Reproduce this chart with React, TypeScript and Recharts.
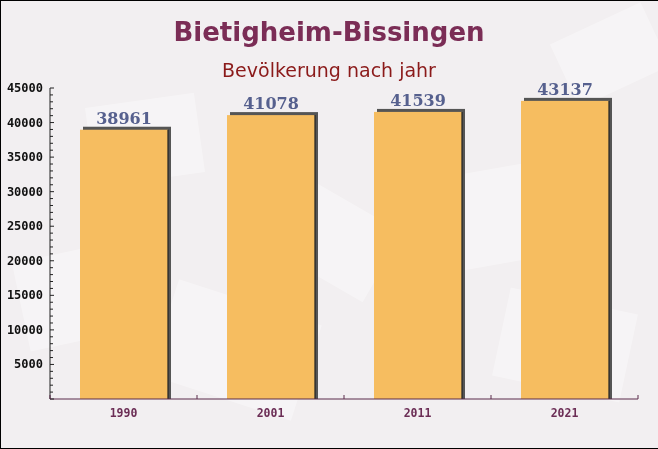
import React from 'react';
import { BarChart, Bar, XAxis, YAxis, LabelList } from 'recharts';

const years = ['1990', '2001', '2011', '2021'];
const population = [38961, 41078, 41539, 43137];
const yTicks = [
  0, 1000, 2000, 3000, 4000, 5000, 6000, 7000, 8000, 9000, 10000, 11000, 12000, 13000, 14000, 15000,
  16000, 17000, 18000, 19000, 20000, 21000, 22000, 23000, 24000, 25000, 26000, 27000, 28000, 29000, 30000,
  31000, 32000, 33000, 34000, 35000, 36000, 37000, 38000, 39000, 40000, 41000, 42000, 43000, 44000, 45000,
];

const data = years.map((year, i) => ({ year, value: population[i] }));

const AXIS_X = 50;
const AXIS_Y = 399;

function YTick({ y, payload }: any) {
  const v = payload.value as number;
  const major = v % 5000 === 0;
  return (
    <g>
      <line x1={AXIS_X} x2={AXIS_X + (major ? 4 : 3)} y1={y} y2={y} stroke="#222" strokeWidth={1} />
      {major && v !== 0 && (
        <text
          x={43}
          y={y + 4}
          textAnchor="end"
          fontFamily="'DejaVu Sans Mono', monospace"
          fontWeight="bold"
          fontSize={12}
          fill="#111"
        >
          {v}
        </text>
      )}
    </g>
  );
}

function XTick({ x, payload, index }: any) {
  const half = 73.5;
  return (
    <g>
      <line x1={x - half} x2={x - half} y1={AXIS_Y} y2={AXIS_Y - 4} stroke="#5a2a4a" />
      {index === years.length - 1 && (
        <line x1={x + half} x2={x + half} y1={AXIS_Y} y2={AXIS_Y - 4} stroke="#5a2a4a" />
      )}
      <text
        x={x}
        y={417}
        textAnchor="middle"
        fontFamily="'DejaVu Sans Mono', monospace"
        fontWeight="bold"
        fontSize={11.5}
        fill="#6b2d55"
      >
        {payload.value}
      </text>
    </g>
  );
}

function ShadowBar({ x, y, width, height }: any) {
  const d = 3;
  return (
    <g>
      <rect x={x + d} y={y - d} width={width} height={height + d} fill="#555" />
      <rect x={x} y={y} width={width} height={height} fill="#f6bd60" />
      <line x1={x + width} x2={x + width} y1={y} y2={y + height} stroke="#222" strokeWidth={1.2} />
    </g>
  );
}

function ValueLabel({ x, y, width, value }: any) {
  return (
    <text
      x={x + width / 2}
      y={y - 6}
      textAnchor="middle"
      fontFamily="'DejaVu Serif', serif"
      fontWeight="bold"
      fontSize={16}
      fill="#56608e"
    >
      {value}
    </text>
  );
}

export default function App() {
  return (
    <div style={{ position: 'absolute', left: 0, top: 0, width: 658, height: 449, background: '#f2eff1', overflow: 'hidden' }}>
      <svg width={658} height={449} style={{ position: 'absolute', left: 0, top: 0 }}>
        <g fill="#ffffff" opacity={0.35}>
          <rect x={20} y={250} width={120} height={90} transform="rotate(-12 80 295)" />
          <rect x={160} y={300} width={150} height={100} transform="rotate(18 235 350)" />
          <rect x={420} y={170} width={140} height={95} transform="rotate(-10 490 217)" />
          <rect x={280} y={200} width={110} height={80} transform="rotate(30 335 240)" />
          <rect x={500} y={300} width={130} height={90} transform="rotate(12 565 345)" />
          <rect x={560} y={20} width={100} height={70} transform="rotate(-25 610 55)" />
          <rect x={90} y={100} width={110} height={80} transform="rotate(-8 145 140)" />
        </g>
      </svg>
      <div style={{ position: 'absolute', left: 0, top: 0 }}>
        <BarChart width={658} height={449} data={data} margin={{ top: 88, right: 20, bottom: 20, left: 0 }}>
          <text
            x={329}
            y={41}
            textAnchor="middle"
            fontFamily="'DejaVu Sans', Verdana, sans-serif"
            fontWeight="bold"
            fontSize={26}
            fill="#7b2d56"
          >
            Bietigheim-Bissingen
          </text>
          <text
            x={329}
            y={77}
            textAnchor="middle"
            fontFamily="'DejaVu Sans', Verdana, sans-serif"
            fontSize={19}
            fill="#8b1a1a"
          >
            Bevölkerung nach jahr
          </text>
          <YAxis
            width={50}
            domain={[0, 45000]}
            ticks={yTicks}
            interval={0}
            tickLine={false}
            axisLine={{ stroke: '#222' }}
            tick={<YTick />}
          />
          <XAxis
            dataKey="year"
            height={30}
            tickLine={false}
            axisLine={{ stroke: '#5a2a4a' }}
            tick={<XTick />}
            interval={0}
          />
          <Bar dataKey="value" barSize={88} isAnimationActive={false} shape={<ShadowBar />}>
            <LabelList dataKey="value" content={<ValueLabel />} />
          </Bar>
        </BarChart>
      </div>
      <div
        style={{
          position: 'absolute',
          left: 0,
          top: 0,
          width: 658,
          height: 449,
          boxSizing: 'border-box',
          borderTop: '1px solid #000',
          borderLeft: '1px solid #000',
          borderBottom: '1px solid #000',
          pointerEvents: 'none',
        }}
      />
    </div>
  );
}
